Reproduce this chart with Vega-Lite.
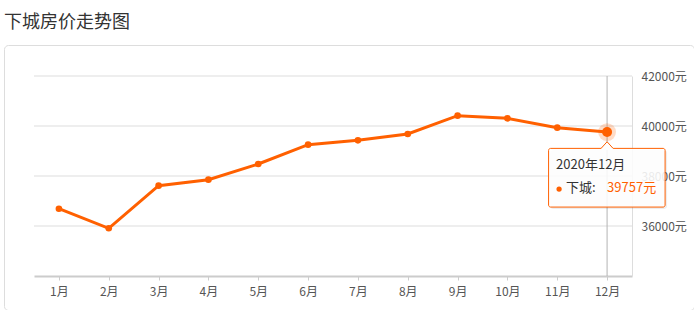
{
  "$schema": "https://vega.github.io/schema/vega-lite/v6.json",
  "width": 690,
  "height": 265,
  "padding": {"left": 4, "top": 45, "right": 0, "bottom": 0},
  "autosize": {"type": "none"},
  "background": "white",
  "config": {
    "font": "Noto Sans CJK SC",
    "view": {"stroke": "#dddddd", "cornerRadius": 4, "strokeWidth": 1}
  },
  "title": {
    "text": "下城房价走势图",
    "anchor": "start",
    "frame": "group",
    "orient": "top",
    "fontSize": 18,
    "fontWeight": "normal",
    "color": "#333333",
    "baseline": "alphabetic",
    "offset": 21,
    "dy": 22,
    "font": "Noto Sans CJK SC"
  },
  "data": {
    "values": [
      {"month": "1月", "price": 36692},
      {"month": "2月", "price": 35908},
      {"month": "3月", "price": 37613},
      {"month": "4月", "price": 37853},
      {"month": "5月", "price": 38480},
      {"month": "6月", "price": 39253},
      {"month": "7月", "price": 39427},
      {"month": "8月", "price": 39680},
      {"month": "9月", "price": 40413},
      {"month": "10月", "price": 40307},
      {"month": "11月", "price": 39933},
      {"month": "12月", "price": 39757}
    ]
  },
  "encoding": {
    "x": {
      "field": "month",
      "type": "ordinal",
      "sort": null,
      "scale": {"type": "point", "domain": ["1月", "2月", "3月", "4月", "5月", "6月", "7月", "8月", "9月", "10月", "11月", "12月"], "range": [30, 628], "padding": 0.5},
      "axis": {
        "orient": "bottom",
        "offset": -34,
        "title": null,
        "labelAngle": 0,
        "domainColor": "#cccccc",
        "domainWidth": 2,
        "tickColor": "#cccccc",
        "tickSize": 4,
        "labelColor": "#555555",
        "labelFontSize": 12,
        "labelPadding": 6,
        "grid": false
      }
    },
    "y": {
      "field": "price",
      "type": "quantitative",
      "scale": {"domain": [34000, 42000], "range": [231, 31], "nice": false, "zero": false},
      "axis": {
        "orient": "right",
        "offset": -62,
        "title": null,
        "values": [36000, 38000, 40000, 42000],
        "labelExpr": "datum.value + '元'",
        "ticks": false,
        "domainColor": "#dddddd",
        "grid": false,
        "labelColor": "#555555",
        "labelFontSize": 12,
        "labelPadding": 9
      }
    }
  },
  "layer": [
    {
      "data": {"values": [{"price": 36000}, {"price": 38000}, {"price": 40000}, {"price": 42000}]},
      "mark": {"type": "rule", "color": "#dddddd", "strokeWidth": 1, "xOffset": -24.92, "x2Offset": 24.92},
      "encoding": {"x": {"datum": "1月"}, "x2": {"datum": "12月"}, "y": {"field": "price", "type": "quantitative"}}
    },
    {
      "transform": [{"filter": "datum.month === '12月'"}],
      "mark": {"type": "rule", "color": "#b3b3b3", "strokeWidth": 1},
      "encoding": {"y": {"datum": 34000}, "y2": {"datum": 42000}}
    },
    {
      "mark": {"type": "line", "color": "#ff6000", "strokeWidth": 3}
    },
    {
      "mark": {"type": "point", "filled": true, "size": 44, "color": "#ff6000", "opacity": 1}
    },
    {
      "transform": [{"filter": "datum.month === '12月'"}],
      "mark": {"type": "point", "filled": true, "size": 320, "color": "#ff6000", "opacity": 0.22}
    },
    {
      "transform": [{"filter": "datum.month === '12月'"}],
      "mark": {"type": "point", "filled": true, "size": 100, "color": "#ff6000", "opacity": 1}
    },
    {
      "transform": [{"filter": "datum.month === '12月'"}],
      "mark": {"type": "rect", "fill": "#000000", "opacity": 0.07, "cornerRadius": 3, "xOffset": -57, "x2Offset": 60, "yOffset": 18, "y2Offset": 77},
      "encoding": {"x2": {"field": "month"}, "y2": {"field": "price"}}
    },
    {
      "transform": [{"filter": "datum.month === '12月'"}],
      "mark": {"type": "rect", "fill": "#ffffff", "fillOpacity": 0.88, "stroke": "#ff6000", "strokeWidth": 1, "cornerRadius": 2, "xOffset": -58.5, "x2Offset": 58, "yOffset": 16.3, "y2Offset": 75},
      "encoding": {"x2": {"field": "month"}, "y2": {"field": "price"}}
    },
    {
      "transform": [{"filter": "datum.month === '12月'"}],
      "mark": {"type": "point", "shape": "M-1,0.5L0,-0.6L1,0.5L1,0.75L-1,0.75Z", "filled": true, "fill": "#ffffff", "strokeWidth": 0, "size": 144, "opacity": 1, "yOffset": 13.3}
    },
    {
      "transform": [{"filter": "datum.month === '12月'"}],
      "mark": {"type": "point", "shape": "M-1,0.5L0,-0.6L1,0.5", "filled": false, "stroke": "#ff6000", "strokeWidth": 1, "size": 144, "opacity": 1, "yOffset": 13.3}
    },
    {
      "transform": [{"filter": "datum.month === '12月'"}],
      "mark": {"type": "text", "text": "2020年12月", "align": "left", "baseline": "middle", "dx": -51, "dy": 33, "fontSize": 13, "color": "#333333"}
    },
    {
      "transform": [{"filter": "datum.month === '12月'"}],
      "mark": {"type": "point", "filled": true, "size": 28, "color": "#ff6000", "opacity": 1, "xOffset": -48, "yOffset": 57}
    },
    {
      "transform": [{"filter": "datum.month === '12月'"}],
      "mark": {"type": "text", "text": "下城:", "align": "left", "baseline": "middle", "dx": -41, "dy": 56, "fontSize": 13, "color": "#333333"}
    },
    {
      "transform": [{"filter": "datum.month === '12月'"}],
      "mark": {"type": "text", "text": "39757元", "align": "left", "baseline": "middle", "dx": 0, "dy": 56, "fontSize": 13, "color": "#ff6000"}
    }
  ]
}
